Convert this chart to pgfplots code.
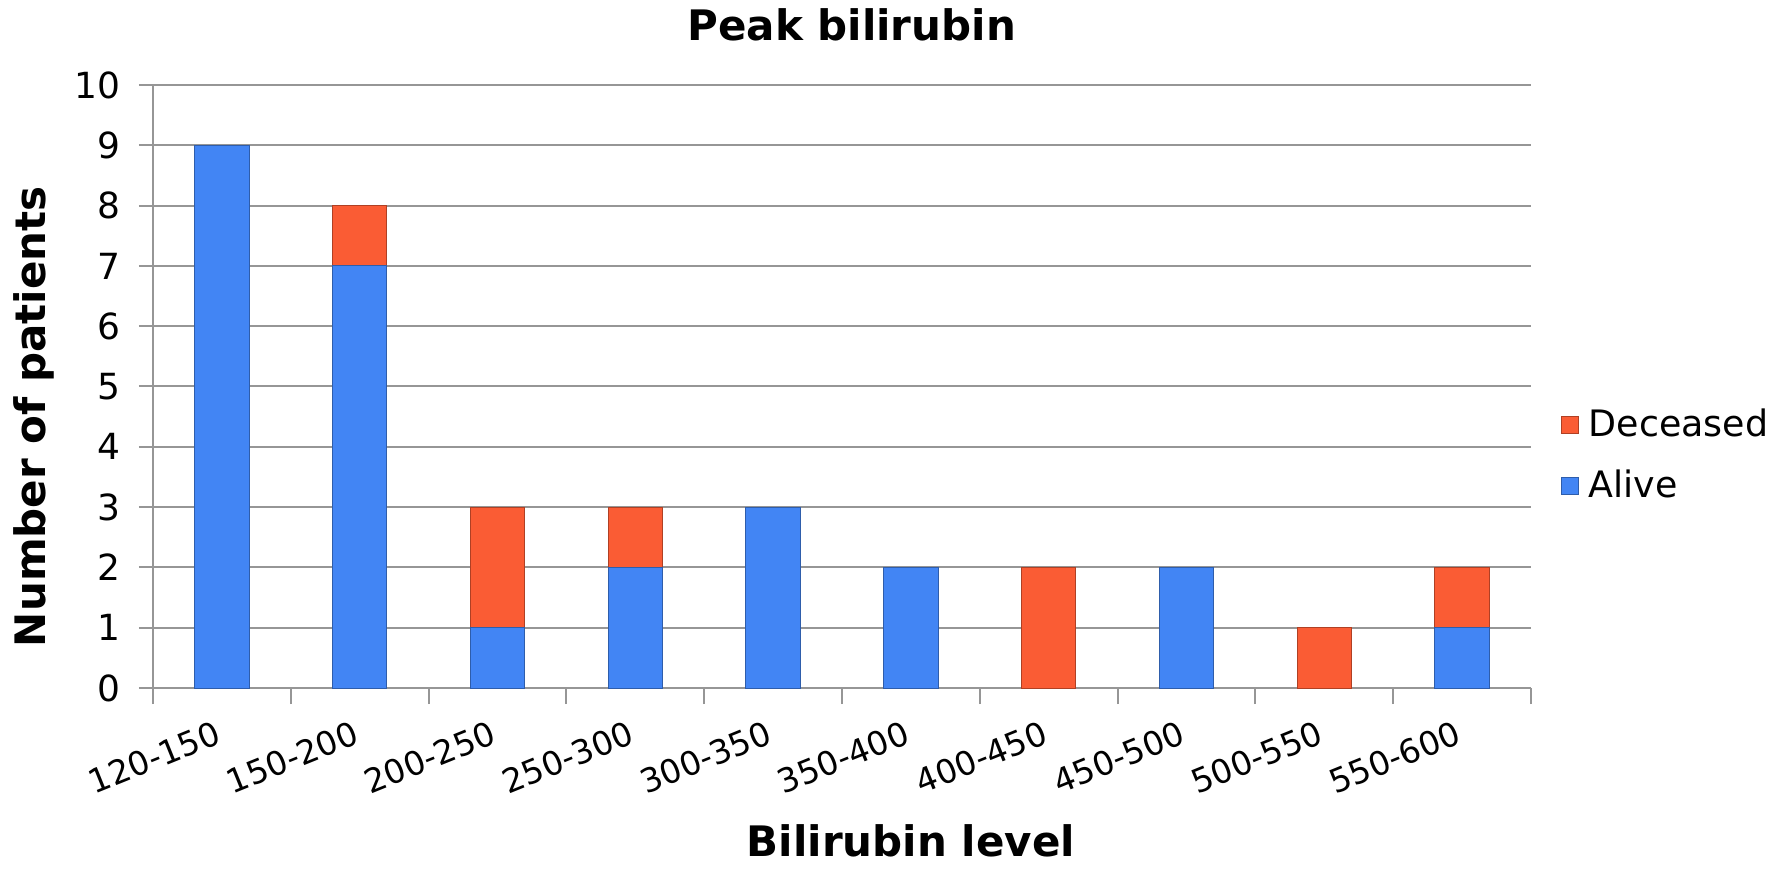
\documentclass[border=0pt]{standalone}
\usepackage{fontspec}
\setmainfont{DejaVu Sans}
\usepackage{pgfplots}
\pgfplotsset{compat=1.18}
\definecolor{alive}{RGB}{66,133,244}
\definecolor{dead}{RGB}{250,92,52}
\definecolor{gridc}{RGB}{150,150,150}
\begin{document}
\fontsize{18bp}{21bp}\selectfont
\begin{tikzpicture}
\path[use as bounding box] (-76.5bp,-92bp) rectangle (812bp,344bp);
\begin{axis}[
  at={(0,0)}, anchor=south west,
  scale only axis, width=689bp, height=301.5bp,
  ybar stacked, bar width=27.2bp,
  xmin=-0.5, xmax=9.5, ymin=0, ymax=10,
  ytick={0,...,10},
  xtick={0,...,9},
  xticklabels={120-150,150-200,200-250,250-300,300-350,350-400,400-450,450-500,500-550,550-600},
  minor xtick={-0.5,0.5,...,9.5},
  axis x line*=bottom, axis y line*=left,
  axis line style={gridc, line width=1bp},
  tick align=outside,
  major x tick style={draw=none},
  minor x tick style={gridc, line width=1bp},
  y tick style={gridc, line width=1bp},
  major tick length=7bp, minor tick length=8bp,
  ymajorgrids, grid style={gridc, line width=1bp},
  /pgf/number format/assume math mode=true,
  yticklabel style={xshift=-3bp, font=\fontsize{18bp}{21bp}\selectfont},
  xticklabel style={rotate=22, anchor=north east, xshift=-1bp, yshift=-0.5bp, font=\fontsize{16.5bp}{19bp}\selectfont},
  every axis title shift=0pt,
  title={Peak bilirubin},
  title style={at={(axis description cs:0.507,1.0995)}, anchor=center, yshift=0pt, font=\fontsize{21bp}{24bp}\selectfont\bfseries},
  xlabel={Bilirubin level},
  xlabel style={at={(axis description cs:0.55,-0.2537)}, anchor=center, font=\fontsize{21bp}{24bp}\selectfont\bfseries},
  ylabel={Number of patients},
  ylabel style={at={(axis description cs:-0.0867,0.45)}, anchor=center, rotate=0, font=\fontsize{21bp}{24bp}\selectfont\bfseries},
  legend style={at={(axis description cs:1.0215,0.3856)}, anchor=west, draw=none, fill=none,
    font=\fontsize{18.2bp}{21bp}\selectfont, row sep=10bp, inner sep=0pt,
    nodes={inner xsep=5bp}},
  legend cell align=left,
  reverse legend,
  legend image code/.code={\draw[#1, line width=0.4bp] (0bp,-4.2bp) rectangle (8.5bp,4.2bp);},
]
\addplot[fill=alive, draw=alive!70!black, line width=0.5bp] coordinates {(0,9) (1,7) (2,1) (3,2) (4,3) (5,2) (6,0) (7,2) (8,0) (9,1)};
\addlegendentry{Alive}
\addplot[fill=dead, draw=dead!70!black, line width=0.5bp] coordinates {(0,0) (1,1) (2,2) (3,1) (4,0) (5,0) (6,2) (7,0) (8,1) (9,1)};
\addlegendentry{Deceased}
\end{axis}
\end{tikzpicture}
\end{document}
